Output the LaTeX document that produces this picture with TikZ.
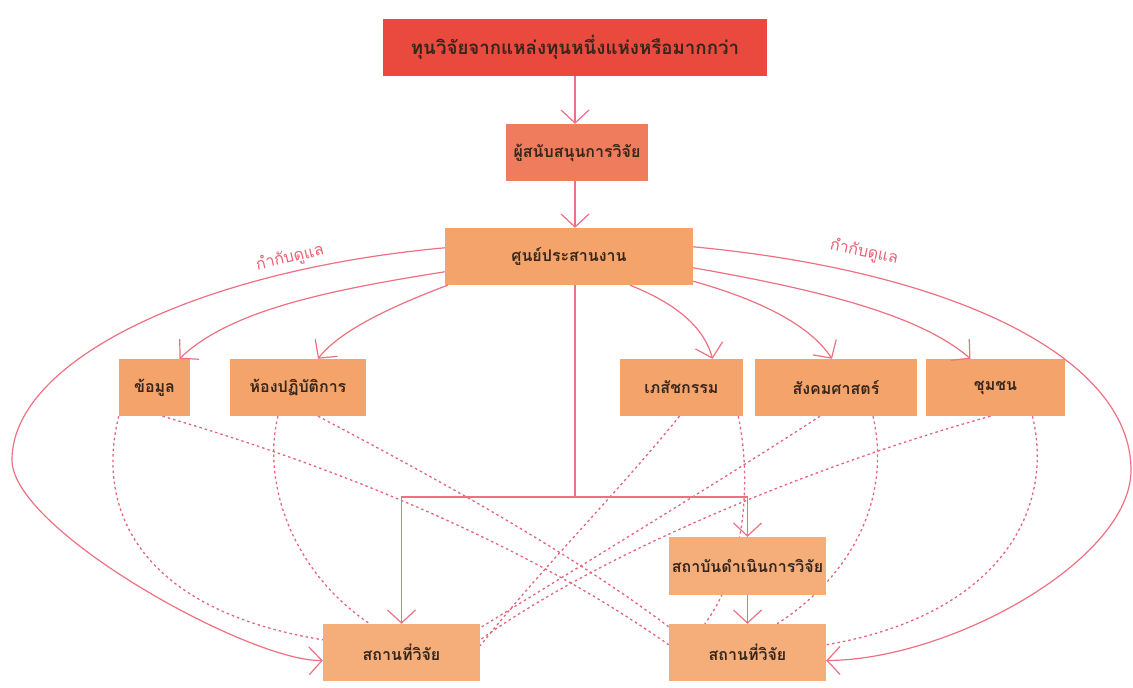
\documentclass[tikz,border=0pt]{standalone}
\usepackage{fontspec}
\newfontfamily\thai[Script=Thai]{Loma}
\usetikzlibrary{arrows.meta,calc}
\pgfdeclarelayer{background}
\pgfsetlayers{background,main}
\definecolor{fundc}{RGB}{234,74,62}
\definecolor{sponc}{RGB}{239,124,92}
\definecolor{boxc}{RGB}{244,164,106}
\definecolor{boxl}{RGB}{245,174,122}
\definecolor{linec}{RGB}{238,112,130}
\definecolor{dotc}{RGB}{230,100,124}
\definecolor{txtc}{RGB}{55,38,28}
\definecolor{labc}{RGB}{236,96,116}
\begin{document}
\begin{tikzpicture}[x=1pt,y=-1pt,
  box/.style={fill=#1, draw=none, text=txtc, font=\thai\bfseries\fontsize{16}{19}\selectfont, inner sep=0pt, minimum height=57pt, align=center},
  arr/.style={draw=linec, line width=1.2pt, -{Straight Barb[length=13pt,width=28pt]}},
  plain/.style={draw=linec, line width=1.2pt},
  dots/.style={draw=dotc, line width=1.3pt, dash pattern=on 2.5pt off 3pt},
  lab/.style={text=labc, font=\thai\fontsize{16}{18}\selectfont, inner sep=1pt}
]
\useasboundingbox (0,0) rectangle (1133,688);

% nodes
\node[box=fundc, minimum width=384pt, font=\thai\bfseries\fontsize{18.7}{22}\selectfont] (fund) at (575,47.5) {ทุนวิจัยจากแหล่งทุนหนึ่งแห่งหรือมากกว่า};
\node[box=sponc, minimum width=142pt] (spon) at (577,152.5) {ผู้สนับสนุนการวิจัย};
\node[box=boxc, minimum width=248pt] (coord) at (569,256.5) {ศูนย์ประสานงาน};
\node[box=boxc, minimum width=71pt] (data) at (154.5,387.5) {ข้อมูล};
\node[box=boxc, minimum width=136pt] (labr) at (298,387.5) {ห้องปฏิบัติการ};
\node[box=boxc, minimum width=123pt] (pharm) at (681.5,387.5) {เภสัชกรรม};
\node[box=boxc, minimum width=162pt] (soc) at (836,387.5) {สังคมศาสตร์};
\node[box=boxc, minimum width=139pt] (comm) at (995.5,387.5) {ชุมชน};
\node[box=boxl, minimum width=157pt, minimum height=58pt] (inst) at (747.5,566) {สถาบันดำเนินการวิจัย};
\node[box=boxl, minimum width=157pt] (siteL) at (401.5,652.5) {สถานที่วิจัย};
\node[box=boxl, minimum width=157pt] (siteR) at (747.5,652.5) {สถานที่วิจัย};

% labels
\node[lab, rotate=13] (supL) at (290,258) {กำกับดูแล};
\node[lab, rotate=-12] (supR) at (864,252) {กำกับดูแล};

% dotted links (behind boxes)
\begin{pgfonlayer}{background}
\fill[white] (0,0) rectangle (1133,688);
\draw[dots] (data.south west) .. controls (95,510) and (140,610) .. ($(siteL.north west)+(0,16)$);
\draw[dots] ($(data.south)+(8,0)$) .. controls (330,465) and (520,540) .. ($(siteR.north west)+(0,21)$);
\draw[dots] ($(labr.south)+(-20,0)$) .. controls (262,480) and (290,570) .. ($(siteL.north west)+(47,0)$);
\draw[dots] ($(labr.south)+(20,0)$) .. controls (420,470) and (560,545) .. ($(siteR.north west)+(0,3)$);
\draw[dots] ($(pharm.south)+(-2,0)$) .. controls (620,490) and (540,570) .. ($(siteL.north east)+(0,22)$);
\draw[dots] ($(soc.south)+(-16,0)$) .. controls (730,475) and (590,560) .. ($(siteL.north east)+(0,4)$);
\draw[dots] ($(comm.south)+(-5,0)$) .. controls (850,455) and (620,540) .. ($(siteL.north east)+(0,16)$);
\draw[dots] ($(pharm.south east)+(-5,0)$) .. controls (752,480) and (745,570) .. ($(siteR.north west)+(36,0)$);
\draw[dots] ($(soc.south)+(37,0)$) .. controls (890,490) and (860,570) .. ($(siteR.north east)+(-49,0)$);
\draw[dots] ($(comm.south)+(37,0)$) .. controls (1055,510) and (1000,615) .. ($(siteR.north east)+(0,21)$);
\end{pgfonlayer}

% vertical chain
\draw[arr] (fund.south) -- (fund.south |- spon.north);
\draw[arr] (spon.south -| fund.south) -- (fund.south |- coord.north);
\coordinate (j) at (575,497);
\draw[plain] (coord.south -| j) -- (j);
\draw[arr] (j) -| (siteL.north);
\draw[arr] (j) -| (inst.north);
\draw[arr] (inst.south) -- (siteR.north);

% curved links to the topic boxes
\draw[arr] ($(coord.north west)+(0,44)$) .. controls (330,290) and (230,310) .. ($(data.north)+(25,0)$);
\draw[arr] ($(coord.south west)+(3,0)$) .. controls (395,305) and (340,330) .. ($(labr.north)+(20,0)$);
\draw[arr] ($(coord.south)+(61,0)$) .. controls (680,305) and (705,330) .. ($(pharm.north)+(31,0)$);
\draw[arr] ($(coord.south east)+(0,-4)$) .. controls (760,300) and (810,325) .. ($(soc.north)+(-4,0)$);
\draw[arr] ($(coord.north east)+(0,40)$) .. controls (820,290) and (920,315) .. ($(comm.north)+(-25,0)$);

% outer supervision loops
\draw[arr] ($(coord.north west)+(0,20)$) .. controls (200,270) and (12,360) .. (12,460) .. controls (12,530) and (250,662) .. ($(siteL.west)+(0,8)$);
\draw[arr] ($(coord.north east)+(0,19)$) .. controls (960,272) and (1131,360) .. (1131,470) .. controls (1131,560) and (950,660) .. ($(siteR.east)+(0,8)$);
\end{tikzpicture}
\end{document}
